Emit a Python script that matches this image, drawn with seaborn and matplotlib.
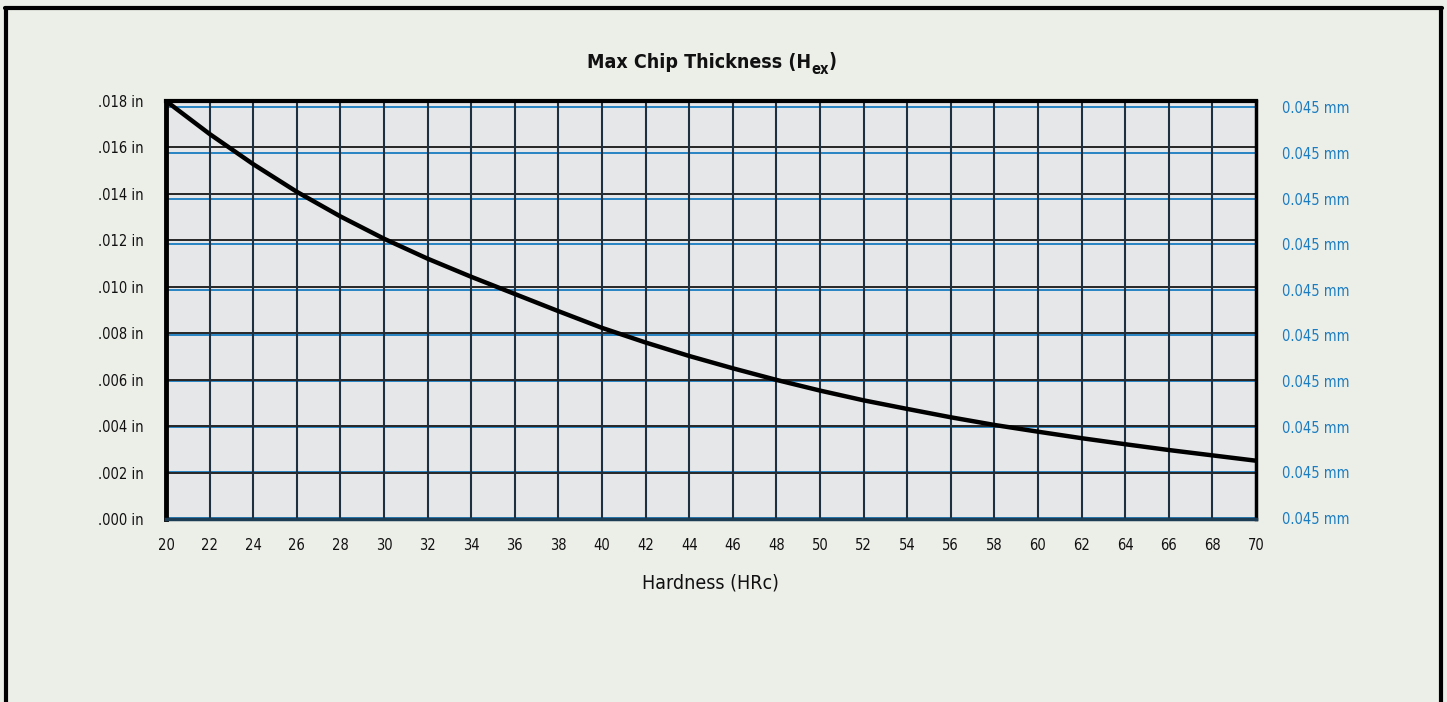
"""
Max chip thickness vs hardness chart, redrawn with seaborn.
Saves out.png in the working folder.
"""
import matplotlib
matplotlib.use("Agg")
import matplotlib.pyplot as plt
from matplotlib.lines import Line2D
import seaborn as sns
import pandas as pd

# values
hardness = [20, 22, 24, 26, 28, 30, 32, 34, 36, 38, 40, 42, 44,
            46, 48, 50, 52, 54, 56, 58, 60, 62, 64, 66, 68, 70]
chip_in = [0.0180, 0.01658, 0.01528, 0.01409, 0.01303, 0.01207, 0.01121,
           0.01043, 0.00969, 0.00895, 0.00823, 0.00760, 0.00702, 0.00649,
           0.00599, 0.00553, 0.00511, 0.00474, 0.00438, 0.00405, 0.00376,
           0.00348, 0.00322, 0.00297, 0.00274, 0.00251]
in_ticks = [0.000, 0.002, 0.004, 0.006, 0.008, 0.010, 0.012, 0.014, 0.016, 0.018]
in_labels = [".000 in", ".002 in", ".004 in", ".006 in", ".008 in",
             ".010 in", ".012 in", ".014 in", ".016 in", ".018 in"]
mm_ticks = [0, 1, 2, 3, 4, 5, 6, 7, 8, 9]
mm_labels = ["0.045 mm"] * 10
x_ticks = list(range(20, 71, 2))

TITLE_MAIN = "Max Chip Thickness (H"
TITLE_SUB = "ex"
TITLE_END = ")"
XLABEL = "Hardness (HRc)"

FIG_BG = "#eceee8"
AX_BG = "#e6e7e9"
BLUE = "#1a7cc1"
INK = "#111111"

sns.set_style("white")
plt.rcParams["font.family"] = ["DejaVu Sans"]
plt.rcParams["font.stretch"] = "condensed"

df = pd.DataFrame({"hardness": hardness, "chip": chip_in})

W, H = 1447, 702
fig = plt.figure(figsize=(W / 100, H / 100), dpi=100, facecolor=FIG_BG)
ax = fig.add_axes([166 / W, 1 - 519 / H, (1256 - 166) / W, (519 - 101) / H])
ax.set_facecolor(AX_BG)

# right-hand (mm) axis, its blue grid lines sit a little below the inch ones
ax2 = ax.twinx()
ax2.set_ylim(-0.02, 9.137)
ax2.set_yticks(mm_ticks)
ax2.set_yticklabels(mm_labels)
for k in mm_ticks:
    ax2.axhline(k, color=BLUE, lw=1.3, zorder=1)
ax2.tick_params(axis="y", length=0, pad=19, labelsize=10.5, labelcolor=BLUE)
for s in ax2.spines.values():
    s.set_visible(False)

# draw the inch axis above the twin
ax.set_zorder(ax2.get_zorder() + 1)
ax.patch.set_visible(False)
ax2.patch.set_visible(True)
ax2.patch.set_facecolor(AX_BG)

# inch grid
for v in in_ticks[1:]:
    ax.axhline(v, color="#262626", lw=1.4, zorder=1)
for x in x_ticks[1:-1]:
    ax.axvline(x, color="#1e3040", lw=1.5, zorder=1)

sns.lineplot(data=df, x="hardness", y="chip", ax=ax, color="black", lw=3.2, zorder=5)

ax.set_xlim(20, 70)
ax.set_ylim(0, 0.018)
ax.set_xticks(x_ticks)
ax.set_xticklabels([str(x) for x in x_ticks])
ax.set_yticks(in_ticks)
ax.set_yticklabels(in_labels)
ax.tick_params(axis="y", length=0, pad=16, labelsize=10.5, labelcolor=INK)
ax.tick_params(axis="x", length=0, pad=14, labelsize=10.5, labelcolor=INK)
ax.set_xlabel("")
ax.set_ylabel("")
ax.grid(False)

ax.spines["left"].set_linewidth(3.5)
ax.spines["top"].set_linewidth(3.0)
ax.spines["right"].set_linewidth(2.5)
ax.spines["bottom"].set_linewidth(2.5)
for side in ["left", "top", "right"]:
    ax.spines[side].set_color("black")
ax.spines["bottom"].set_color("#1d3d55")
for s in ax.spines.values():
    s.set_zorder(10)

# title with a subscript, built from three pieces and centred as a whole
ty = 1 - 62 / H
t1 = fig.text(0, ty, TITLE_MAIN, ha="left", va="center", fontsize=14,
              fontweight="bold", color=INK)
fig.canvas.draw()
r = fig.canvas.get_renderer()
b1 = t1.get_window_extent(r)
t2 = fig.text(0, ty - 8 / H, TITLE_SUB, ha="left", va="center", fontsize=10.5,
              fontweight="bold", color=INK)
b2 = t2.get_window_extent(r)
t3 = fig.text(0, ty, TITLE_END, ha="left", va="center", fontsize=14,
              fontweight="bold", color=INK)
b3 = t3.get_window_extent(r)
total = b1.width + b2.width + b3.width
x0 = 712 - total / 2
t1.set_x(x0 / W)
t2.set_x((x0 + b1.width) / W)
t3.set_x((x0 + b1.width + b2.width) / W)

fig.text(710 / W, 1 - 583 / H, XLABEL, ha="center", va="center",
         fontsize=14, color=INK)

# frame around the picture: top, left and right only
fw = 3.0
fig.add_artist(Line2D([6 / W, 6 / W], [0, 1 - 8 / H], color="black", lw=fw,
                      transform=fig.transFigure))
fig.add_artist(Line2D([5 / W, 1442 / W], [1 - 8 / H, 1 - 8 / H], color="black",
                      lw=fw, transform=fig.transFigure))
fig.add_artist(Line2D([1441 / W, 1441 / W], [0, 1 - 8 / H], color="black", lw=fw,
                      transform=fig.transFigure))

fig.savefig("out.png", dpi=100, facecolor=FIG_BG)
plt.close(fig)
